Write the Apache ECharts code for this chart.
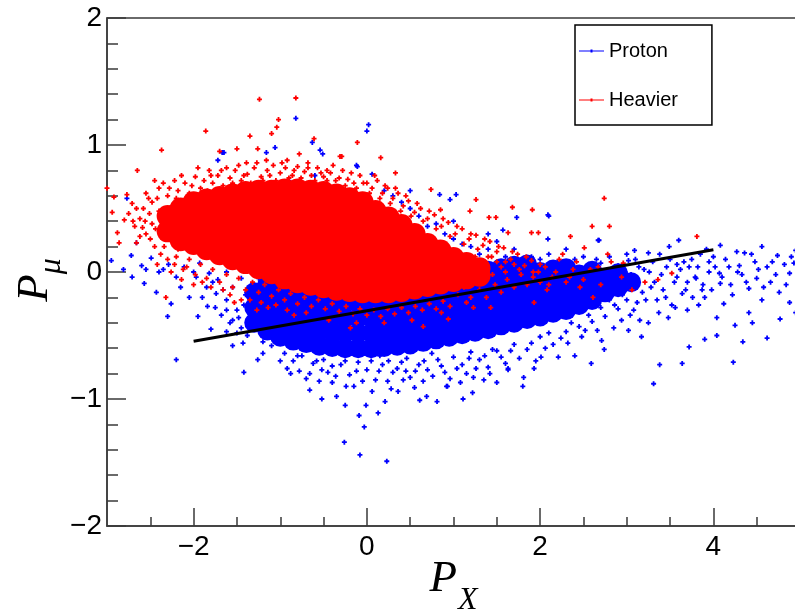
<!DOCTYPE html>
<html><head><meta charset="utf-8">
<script src="https://cdn.jsdelivr.net/npm/echarts@6.0.0/dist/echarts.min.js"></script>
<style>html,body{margin:0;padding:0;background:#fff}#c{width:795px;height:612px}</style>
</head><body><div id="c"></div><script>
const xMajorTicks = [-2, 0, 2, 4];
const xMinorTicks = [-2.5, -1.5, -1, -0.5, 0.5, 1, 1.5, 2.5, 3, 3.5, 4.5];
const seriesNames = ['Proton', 'Heavier'];
const fitLine = [[-2, -0.545], [4, 0.175]];

const protonCore = [
[-1.3,-0.40],[-1.3,-0.28],[-1.3,-0.16],
[-1.15,-0.46],[-1.15,-0.34],[-1.15,-0.22],[-1.15,-0.10],
[-1.0,-0.51],[-1.0,-0.39],[-1.0,-0.27],[-1.0,-0.15],
[-0.85,-0.54],[-0.85,-0.42],[-0.85,-0.30],[-0.85,-0.18],
[-0.7,-0.56],[-0.7,-0.44],[-0.7,-0.32],[-0.7,-0.20],
[-0.55,-0.58],[-0.55,-0.46],[-0.55,-0.34],[-0.55,-0.22],
[-0.4,-0.59],[-0.4,-0.47],[-0.4,-0.35],[-0.4,-0.23],
[-0.25,-0.60],[-0.25,-0.48],[-0.25,-0.36],[-0.25,-0.24],
[-0.1,-0.60],[-0.1,-0.48],[-0.1,-0.36],[-0.1,-0.24],
[0.05,-0.60],[0.05,-0.48],[0.05,-0.36],[0.05,-0.24],
[0.2,-0.59],[0.2,-0.47],[0.2,-0.35],[0.2,-0.23],
[0.35,-0.58],[0.35,-0.46],[0.35,-0.34],[0.35,-0.22],
[0.5,-0.57],[0.5,-0.45],[0.5,-0.33],[0.5,-0.21],
[0.65,-0.55],[0.65,-0.43],[0.65,-0.31],[0.65,-0.19],
[0.8,-0.53],[0.8,-0.41],[0.8,-0.29],[0.8,-0.17],
[0.95,-0.51],[0.95,-0.39],[0.95,-0.27],[0.95,-0.15],[0.95,-0.05],
[1.1,-0.49],[1.1,-0.37],[1.1,-0.25],[1.1,-0.13],[1.1,-0.03],
[1.25,-0.47],[1.25,-0.35],[1.25,-0.23],[1.25,-0.11],[1.25,-0.01],
[1.4,-0.45],[1.4,-0.33],[1.4,-0.21],[1.4,-0.09],[1.4,0.01],
[1.55,-0.42],[1.55,-0.30],[1.55,-0.18],[1.55,-0.06],[1.55,0.03],
[1.7,-0.40],[1.7,-0.28],[1.7,-0.16],[1.7,-0.04],[1.7,0.05],
[1.85,-0.37],[1.85,-0.25],[1.85,-0.13],[1.85,-0.02],[1.85,0.06],
[2.0,-0.35],[2.0,-0.23],[2.0,-0.11],[2.0,0.0],
[2.15,-0.32],[2.15,-0.20],[2.15,-0.08],[2.15,0.02],
[2.3,-0.30],[2.3,-0.18],[2.3,-0.06],[2.3,0.03],
[2.45,-0.26],[2.45,-0.14],[2.45,-0.02],
[2.6,-0.22],[2.6,-0.10],[2.6,0.01],
[2.75,-0.16],[2.75,-0.05],
[2.9,-0.12],[2.9,-0.01],[3.05,-0.08]
];

const protonPts = [
[-0.82,1.21],[-1.67,0.94],[-1.72,0.88],[-1.16,0.94],[-1.06,0.98],[-0.63,1.02],[-0.54,0.96],[-0.51,0.93],
[-0.11,0.83],[-2.77,0.58],[-2.66,0.23],[-2.72,0.13],[-1.65,0.94],[0.02,1.16],[0.0,1.11],[-0.12,0.84],
[0.06,0.77],[1.03,0.61],[0.84,0.61],[2.10,0.44],[1.73,0.43],[0.96,0.57],[2.09,0.26],[1.57,0.33],[2.68,0.25],
[4.08,0.21],[3.60,0.25],[4.27,0.16],[4.56,0.20],[4.95,0.17],[2.67,0.25],[2.09,0.45],
[0.23,-1.49],[-0.08,-1.44],[-0.26,-1.34],[-0.03,-1.22],[-0.09,-1.13],[0.13,-1.11],[-0.66,-0.93],[-0.52,-1.0],
[-0.35,-0.98],[-0.25,-1.05],[-0.01,-1.05],[0.21,-1.02],[0.61,-1.01],[0.69,-0.98],[0.81,-1.02],[1.11,-1.0],
[0.92,-0.90],[1.80,-0.90],[-1.42,-0.79],[-1.26,-0.69],[-2.20,-0.69],[-1.43,-0.56],[-2.43,-0.16],[-2.26,-0.25],
[-1.84,-0.27],[-1.62,-0.30],[-0.52,-0.77],[-0.40,-0.87],[0.42,-0.85],[1.63,-0.76],[1.93,-0.76],[1.35,-0.85],
[0.93,-0.90],[3.31,-0.88],[3.64,-0.72],[4.23,-0.71],[3.38,-0.73],[2.59,-0.72],[4.04,-0.50],[4.34,-0.55],
[4.62,-0.52],[3.90,-0.53],[3.72,-0.59],[4.77,-0.37],[4.95,-0.32],[4.88,-0.24],[4.56,-0.22],[4.41,-0.32],
[4.25,-0.42],[4.04,-0.36],[3.83,-0.26],[4.88,-0.01],[4.93,0.07],[4.74,0.13],[4.36,0.15],[4.48,0.08],
[4.66,-0.08],[4.76,-0.16],[4.33,-0.02],[4.41,-0.13],[4.18,0.04],[4.08,-0.09],[4.22,-0.18],[3.95,0.08],
[4.07,-0.01],[3.87,-0.14],[3.79,-0.04],[3.72,0.04],[3.64,-0.17],[3.56,-0.28],[3.37,-0.32],[3.25,-0.40],
[3.17,-0.51],[3.02,-0.46],[2.74,-0.61],[2.71,-0.54],[2.48,-0.51],[2.32,-0.56],[2.21,-0.67],[2.01,-0.67],
[1.81,-0.83],[1.63,-0.77],[1.40,-0.75],[1.23,-0.83],[1.08,-0.87],[3.49,0.20],[3.09,0.17],[3.25,0.15],[3.02,0.09],
[-2.95,0.09],[-2.81,0.02],[-2.71,-0.04],[-2.57,-0.09],[-2.20,-0.04],[-2.29,0.06],[-2.49,0.11],[-2.11,0.04],
[-1.97,-0.04],[-1.85,-0.12],[-1.74,-0.17],[-1.62,-0.22],[-1.93,0.07],[-1.82,-0.01],[-1.62,-0.47],[-1.55,-0.38],
[-1.35,-0.28],[-1.27,-0.43],[-1.50,-0.30],[-1.45,-0.44],[-1.40,-0.18],[-1.55,-0.12],[-1.68,-0.34],[-1.72,-0.06],
[-1.10,-0.58],[-0.95,-0.64],[-0.85,-0.70],[-0.75,-0.66],[-0.62,-0.72],[-0.50,-0.69],[-0.45,-0.79],[-0.30,-0.73],
[-0.20,-0.81],[-0.10,-0.71],[0.0,-0.77],[0.10,-0.85],[0.18,-0.73],[0.30,-0.79],[0.40,-0.71],[0.50,-0.83],
[0.60,-0.73],[0.70,-0.77],[0.82,-0.69],[0.90,-0.79],[1.00,-0.67],[1.10,-0.73],[1.20,-0.63],[1.30,-0.69],
[1.45,-0.61],[1.55,-0.67],[1.70,-0.57],[1.85,-0.61],[2.00,-0.51],[2.15,-0.57],[2.30,-0.47],[2.45,-0.43],
[2.60,-0.39],[2.75,-0.35],[2.90,-0.29],[3.00,-0.22],[-0.88,-0.80],[-0.70,-0.84],[-0.15,-0.90],[0.28,-0.92],
[0.55,-0.91],[1.22,-0.95],[1.50,-0.87],[2.40,-0.66],[2.85,-0.44],[-0.30,-0.62],[0.15,-0.66],[0.75,-0.64],
[2.85,-0.05],[2.90,0.05],[2.95,-0.18],[3.05,-0.02],[3.10,0.10],[3.12,-0.24],[3.20,0.02],[3.28,-0.12],
[3.30,0.08],[3.40,-0.02],[3.45,-0.20],[3.50,0.10],[3.55,-0.08],[3.62,0.02],[3.68,-0.14],[3.75,0.10],
[3.80,-0.05],[3.90,-0.20],[3.95,0.00],[4.00,0.12],[2.88,-0.12],[2.98,0.00],[3.08,-0.30],[3.18,-0.16],
[3.35,-0.22],[3.48,-0.36],[3.58,0.06],[3.70,-0.30],[3.85,0.14],[4.12,-0.25],[4.30,0.05],[4.50,-0.05],
[4.62,0.04],[4.82,0.06],[4.45,-0.40],[2.80,0.12],[2.70,0.07],[3.15,-0.38],
[0.30,0.60],[0.50,0.50],[0.70,0.36],[0.90,0.30],[1.10,0.22],[1.30,0.14],[1.50,0.24],[1.70,0.18],
[1.90,0.12],[2.10,0.14],[2.30,0.18],[2.50,0.12],[2.65,0.10],[-0.60,0.76],[-0.90,0.72],[-2.40,0.00],
[-2.60,0.05],[-2.05,-0.20],[-1.95,-0.35],[-2.30,-0.35],[-1.80,-0.45],[-1.55,-0.58],[-1.20,-0.64],
[-1.00,-0.70],[-0.92,-0.76],[-0.80,-0.66],[-0.78,-0.78],[-0.66,-0.80],[-0.58,-0.70],[-0.55,-0.86],[-0.40,-0.74],
[-0.36,-0.82],[-0.25,-0.70],[-0.24,-0.90],[-0.12,-0.78],[-0.05,-0.86],[0.05,-0.70],[0.06,-0.94],[0.14,-0.78],
[0.24,-0.86],[0.25,-0.70],[0.35,-0.76],[0.36,-0.94],[0.45,-0.78],[0.46,-0.68],[0.56,-0.78],[0.65,-0.86],
[0.66,-0.70],[0.76,-0.82],[0.86,-0.74],[0.96,-0.84],[1.04,-0.76],[1.15,-0.80],[1.18,-0.68],[1.26,-0.76],
[1.36,-0.66],[1.42,-0.80],[1.50,-0.62],[1.60,-0.72],[1.66,-0.62],[1.76,-0.68],[1.90,-0.56],[1.95,-0.70],
[2.06,-0.60],[2.10,-0.48],[2.24,-0.52],[2.36,-0.40],[2.52,-0.46],[2.56,-0.34],[2.66,-0.46],[2.70,-0.28],
[2.80,-0.22],[2.94,-0.38],[3.04,-0.34],
[2.82,0.00],[2.86,-0.26],[2.92,-0.08],[3.00,0.14],[3.02,-0.10],[3.10,-0.06],[3.14,0.04],[3.22,-0.22],
[3.26,0.00],[3.32,-0.08],[3.38,0.14],[3.42,-0.14],[3.46,0.04],[3.52,-0.26],[3.58,-0.04],[3.66,0.08],
[3.70,-0.08],[3.76,-0.20],[3.82,0.04],[3.88,-0.10],[3.92,0.18],[3.98,-0.14],[4.02,0.04],[4.10,-0.04],
[4.14,0.10],[4.20,-0.10],[4.28,0.00],[4.38,-0.08],[4.44,0.14],[4.52,0.02],[4.58,-0.12],[4.68,0.08],
[4.72,-0.02],[4.84,-0.10],[4.90,0.12],
[-1.90,-0.20],[-1.75,-0.28],[-1.66,-0.14],[-1.58,-0.40],[-1.48,-0.36],[-1.42,-0.26],[-1.38,-0.50],[-1.50,-0.48],
[-1.20,-0.55],[-1.25,-0.05],[-1.45,-0.05],[-1.62,0.00],[-1.78,-0.08],[-2.00,0.00],[-2.15,-0.12],[-2.35,0.02],
[-2.55,0.02],
[0.20,0.64],[0.40,0.55],[0.60,0.44],[0.80,0.38],[1.00,0.26],[1.20,0.20],[1.40,0.18],[1.60,0.12],
[1.80,0.08],[2.00,0.10],[2.20,0.08],[2.40,0.10],[2.60,0.06],[1.00,0.40],[1.40,0.30],[0.50,0.64]
];

const heavierCore = [
[-2.3,0.32],[-2.3,0.44],
[-2.15,0.25],[-2.15,0.38],[-2.15,0.50],
[-2.0,0.22],[-2.0,0.35],[-2.0,0.48],[-2.0,0.55],
[-1.85,0.18],[-1.85,0.31],[-1.85,0.44],[-1.85,0.57],
[-1.7,0.14],[-1.7,0.27],[-1.7,0.40],[-1.7,0.53],[-1.7,0.59],
[-1.55,0.10],[-1.55,0.23],[-1.55,0.36],[-1.55,0.49],[-1.55,0.61],
[-1.4,0.07],[-1.4,0.20],[-1.4,0.33],[-1.4,0.46],[-1.4,0.59],[-1.4,0.63],
[-1.25,0.03],[-1.25,0.16],[-1.25,0.29],[-1.25,0.42],[-1.25,0.55],[-1.25,0.64],
[-1.1,-0.01],[-1.1,0.12],[-1.1,0.25],[-1.1,0.38],[-1.1,0.51],[-1.1,0.64],
[-0.95,-0.05],[-0.95,0.08],[-0.95,0.21],[-0.95,0.34],[-0.95,0.47],[-0.95,0.60],[-0.95,0.65],
[-0.8,-0.08],[-0.8,0.05],[-0.8,0.18],[-0.8,0.31],[-0.8,0.44],[-0.8,0.57],[-0.8,0.65],
[-0.65,-0.10],[-0.65,0.03],[-0.65,0.16],[-0.65,0.29],[-0.65,0.42],[-0.65,0.55],[-0.65,0.64],
[-0.5,-0.12],[-0.5,0.01],[-0.5,0.14],[-0.5,0.27],[-0.5,0.40],[-0.5,0.53],[-0.5,0.63],
[-0.35,-0.14],[-0.35,-0.01],[-0.35,0.12],[-0.35,0.25],[-0.35,0.38],[-0.35,0.51],[-0.35,0.61],
[-0.2,-0.15],[-0.2,-0.02],[-0.2,0.11],[-0.2,0.24],[-0.2,0.37],[-0.2,0.50],[-0.2,0.58],
[-0.05,-0.16],[-0.05,-0.03],[-0.05,0.10],[-0.05,0.23],[-0.05,0.36],[-0.05,0.48],[-0.05,0.55],
[0.1,-0.16],[0.1,-0.03],[0.1,0.10],[0.1,0.23],[0.1,0.36],[0.1,0.48],
[0.25,-0.16],[0.25,-0.03],[0.25,0.10],[0.25,0.23],[0.25,0.36],[0.25,0.43],
[0.4,-0.15],[0.4,-0.02],[0.4,0.11],[0.4,0.24],[0.4,0.37],
[0.55,-0.13],[0.55,0.0],[0.55,0.12],[0.55,0.23],[0.55,0.30],
[0.7,-0.11],[0.7,0.01],[0.7,0.12],[0.7,0.22],
[0.85,-0.09],[0.85,0.02],[0.85,0.12],[0.85,0.17],
[1.0,-0.07],[1.0,0.03],[1.0,0.11],
[1.15,-0.05],[1.15,0.04],[1.15,0.07],
[1.3,-0.03],[1.3,0.03]
];

const heavierPts = [
[-1.24,1.36],[-0.82,1.37],[-1.02,1.20],[-1.04,1.14],[-1.10,1.09],[-1.86,1.11],[-1.35,1.07],[-2.37,0.96],
[-1.70,0.95],[-1.50,0.97],[-1.26,0.97],[-0.61,1.05],[-0.78,0.93],[-0.11,1.02],[-2.65,0.80],[-3.0,0.66],
[-2.94,0.47],[-2.88,0.31],[-2.66,0.23],[-2.45,0.72],[-2.22,0.72],[-1.82,0.80],[-1.62,0.82],[-1.39,0.86],
[-1.16,0.88],[-0.92,0.88],[-0.68,0.86],[-0.46,0.80],[-0.31,0.91],[-2.77,0.61],[-2.92,0.59],[-2.80,0.41],
[-2.71,0.54],[-2.51,0.46],[-2.59,0.35],[-2.32,0.39],[-2.36,0.28],[-2.86,0.23],
[0.16,0.90],[-0.29,0.91],[0.33,0.78],[0.74,0.65],[1.26,0.57],[1.68,0.51],[1.91,0.49],[2.60,0.36],
[2.35,0.28],[1.41,0.43],[1.49,0.43],[1.19,0.48],[0.85,0.49],[1.90,0.31],[1.98,0.31],[1.63,0.31],
[2.74,0.58],[2.80,0.36],[3.81,0.28],
[1.23,-0.28],[1.43,-0.28],[0.94,-0.37],[1.93,-0.24],[2.61,-0.20],[2.94,-0.04],[3.06,-0.14],[3.21,-0.08],
[3.36,-0.06],[3.52,-0.01],[2.51,0.19],[2.82,0.08],[2.67,0.04],[2.96,0.07],
[-0.19,-0.44],[0.65,-0.43],[-2.32,-0.20],[-1.53,-0.24],[-1.27,-0.30],
[-2.55,0.62],[-2.48,0.55],[-2.40,0.66],[-2.30,0.60],[-2.25,0.52],[-2.18,0.64],[-2.10,0.70],[-2.05,0.62],
[-1.98,0.75],[-1.92,0.66],[-1.88,0.72],[-1.78,0.70],[-1.72,0.76],[-1.66,0.68],[-1.58,0.74],[-1.52,0.80],
[-1.45,0.72],[-1.38,0.77],[-1.30,0.82],[-1.22,0.75],[-1.15,0.80],[-1.08,0.84],[-1.00,0.78],[-0.94,0.82],
[-0.86,0.76],[-0.80,0.83],[-0.72,0.79],[-0.64,0.76],[-0.57,0.82],[-0.50,0.75],[-0.42,0.78],[-0.36,0.72],
[-0.28,0.80],[-0.22,0.73],[-0.15,0.70],[-0.08,0.76],[0.00,0.70],[0.06,0.66],[0.12,0.72],[0.18,0.62],
[0.24,0.66],[0.30,0.58],[0.36,0.62],[0.42,0.52],[0.48,0.56],[0.55,0.47],[0.62,0.50],[0.70,0.42],
[0.78,0.45],[0.86,0.36],[0.94,0.39],[1.02,0.30],[1.10,0.34],[1.18,0.26],[1.26,0.29],[1.34,0.21],
[1.42,0.24],[1.50,0.16],[1.58,0.19],[1.66,0.10],[1.74,0.14],[1.82,0.05],[1.90,0.09],[1.98,0.00],
[2.06,0.04],[2.14,-0.04],[2.22,0.10],[2.30,-0.08],[2.38,0.02],[2.46,-0.12],
[1.05,-0.18],[1.12,-0.12],[1.20,-0.20],[1.30,-0.14],[1.38,-0.20],[1.48,-0.10],[1.55,-0.16],[1.62,-0.06],
[1.70,-0.12],[1.78,-0.02],[1.85,-0.10],[1.92,0.00],[2.00,-0.08],[2.08,-0.14],[1.60,0.00],[1.70,0.06],
[1.50,0.08],[1.40,0.12],[1.45,-0.02],[1.35,0.06],[1.25,0.12],[1.55,0.04],
[-2.62,0.42],[-2.55,0.30],[-2.48,0.38],[-2.45,0.20],[-2.40,0.48],[-2.38,0.14],[-2.30,0.10],[-2.22,0.06],
[-2.18,0.18],[-2.12,0.02],[-2.05,0.10],[-1.98,-0.02],[-1.92,0.06],[-1.85,-0.05],[-1.78,0.02],[-1.70,-0.08],
[-1.62,-0.02],[-1.55,-0.12],[-1.48,-0.05],[-1.40,-0.14],[-1.32,-0.08],[-1.25,-0.16],[-1.18,-0.10],[-1.10,-0.19],
[-1.02,-0.14],[-0.95,-0.22],[-0.88,-0.17],[-0.80,-0.25],[-0.72,-0.20],[-0.64,-0.27],[-0.56,-0.22],[-0.48,-0.29],
[-0.40,-0.25],[-0.32,-0.31],[-0.24,-0.27],[-0.16,-0.33],[-0.08,-0.29],[0.00,-0.34],[0.08,-0.30],[0.16,-0.35],
[0.24,-0.29],[0.32,-0.33],[0.40,-0.28],[0.48,-0.32],[0.56,-0.27],[0.64,-0.30],[0.72,-0.25],[0.80,-0.29],
[0.88,-0.23],[0.96,-0.27],[-2.58,0.50],[-2.68,0.36],[-2.75,0.46],[-2.62,0.28],[-2.52,0.58],
[-2.42,0.58],[-2.35,0.70],[-2.28,0.66],[-2.20,0.58],[-2.14,0.76],[-2.02,0.68],[-1.95,0.82],[-1.84,0.64],
[-1.80,0.76],[-1.68,0.80],[-1.62,0.66],[-1.55,0.70],[-1.48,0.84],[-1.42,0.76],[-1.34,0.70],[-1.27,0.86],
[-1.20,0.72],[-1.12,0.76],[-1.05,0.72],[-0.98,0.86],[-0.90,0.74],[-0.84,0.80],[-0.76,0.74],[-0.68,0.82],
[-0.60,0.72],[-0.53,0.78],[-0.46,0.72],[-0.39,0.84],[-0.32,0.74],[-0.25,0.68],[-0.18,0.78],[-0.12,0.66],
[-0.04,0.70],[0.03,0.62],[0.09,0.76],[0.15,0.58],[0.21,0.68],[0.27,0.54],[0.33,0.66],[0.39,0.48],
[0.45,0.60],[0.51,0.44],[0.58,0.54],[0.65,0.40],[0.72,0.48],[0.80,0.34],[0.88,0.42],[0.96,0.28],
[1.04,0.36],[1.12,0.22],[1.20,0.30],[1.28,0.18],[1.36,0.26],[1.44,0.12],[1.52,0.20],[1.60,0.08],
[1.68,0.16],[1.76,0.02],[1.84,0.12],[1.92,-0.04],[2.00,0.06],[2.10,-0.10],[2.18,0.00],[2.26,0.14],
[2.34,-0.04],[2.42,0.08],[2.50,-0.06],[2.58,0.02],[2.70,-0.10],[2.78,0.14],
[-2.70,0.40],[-2.66,0.50],[-2.56,0.40],[-2.50,0.26],[-2.44,0.34],[-2.42,0.06],[-2.34,0.20],[-2.26,0.00],
[-2.20,0.12],[-2.14,-0.06],[-2.08,0.04],[-2.00,-0.10],[-1.90,-0.08],[-1.80,-0.12],[-1.66,-0.14],[-1.58,-0.18],
[-1.45,-0.22],[-1.35,-0.22],[-1.22,-0.24],[-1.14,-0.28],[-1.05,-0.26],[-0.92,-0.30],[-0.84,-0.34],[-0.70,-0.32],
[-0.44,-0.38],[-0.12,-0.40],[0.20,-0.40],[0.52,-0.38],[0.86,-0.32],[1.15,-0.24]
];

const minusFmt = v => String(v).replace('-', '\u2212');
const axisColor = '#3a3a3a';
const plus = 'path://M1.6,0H3.4V1.6H5V3.4H3.4V5H1.6V3.4H0V1.6H1.6Z';
const legendIcon = 'path://M0,0h0.01v0.01h-0.01z M24.99,19.99h0.01v0.01h-0.01z M0,9.5H25V10.5H0Z M11.5,8.5H13.5V11.5H11.5Z';
const serif = 'Liberation Serif';
const xTitleRich = {
  p: {fontFamily: serif, fontStyle: 'italic', fontSize: 45, lineHeight: 45, color: '#000', verticalAlign: 'top'},
  s: {fontFamily: serif, fontStyle: 'italic', fontSize: 32, lineHeight: 32, color: '#000', verticalAlign: 'top', padding: [28, 0, 0, 1]}
};
const yTitleRich = {
  p: {fontFamily: serif, fontStyle: 'italic', fontSize: 45, lineHeight: 45, color: '#000', verticalAlign: 'top'},
  s: {fontFamily: serif, fontStyle: 'italic', fontSize: 32, lineHeight: 32, color: '#000', verticalAlign: 'top', padding: [23, 16, 0, 0]}
};
const solid = {opacity: 1};

const chart = echarts.init(document.getElementById('c'), null, {renderer: 'canvas'});
chart.setOption({
  animation: false,
  backgroundColor: '#fff',
  grid: {left: 107, top: 18, width: 693, height: 508, outerBoundsMode: 'none', containLabel: false,
         show: true, borderColor: axisColor, borderWidth: 1.5, backgroundColor: 'transparent'},
  legend: {
    data: seriesNames, orient: 'vertical', left: 575, top: 25,
    padding: [16, 34, 15, 4], itemGap: 29, itemWidth: 25, itemHeight: 20,
    icon: legendIcon, borderColor: '#000', borderWidth: 1.5, backgroundColor: '#fff',
    textStyle: {fontFamily: 'Liberation Sans', fontSize: 20, lineHeight: 20, color: '#000'}
  },
  xAxis: [{
    type: 'value', min: -3, max: 5, interval: 1, position: 'bottom',
    splitLine: {show: false},
    axisLine: {onZero: false, lineStyle: {color: axisColor, width: 1.5}},
    axisTick: {inside: true, length: 18, customValues: xMajorTicks, lineStyle: {color: axisColor, width: 1.5}},
    axisLabel: {customValues: xMajorTicks, formatter: minusFmt, fontFamily: 'Liberation Sans', fontSize: 28, color: '#000', margin: 7},
    name: '{p|P}{s|X}', nameLocation: 'middle', nameGap: 31, nameMoveOverlap: false,
    nameTextStyle: {rich: xTitleRich}
  }, {
    type: 'value', min: -3, max: 5, interval: 1, position: 'bottom',
    splitLine: {show: false},
    axisLine: {show: false, onZero: false},
    axisTick: {inside: true, length: 9, customValues: xMinorTicks, lineStyle: {color: axisColor, width: 1.5}},
    axisLabel: {show: false}
  }],
  yAxis: {
    type: 'value', min: -2, max: 2, interval: 1,
    splitLine: {show: false},
    axisLine: {onZero: false, lineStyle: {color: axisColor, width: 1.5}},
    axisTick: {inside: true, length: 19, lineStyle: {color: axisColor, width: 1.5}},
    minorTick: {show: true, splitNumber: 5, length: 11, lineStyle: {color: axisColor, width: 1.5}},
    axisLabel: {formatter: minusFmt, fontFamily: 'Liberation Sans', fontSize: 28, color: '#000', margin: 5},
    name: '{p|P}{s|\u03BC}', nameLocation: 'middle', nameRotate: 90, nameGap: 49, nameMoveOverlap: false,
    nameTextStyle: {rich: yTitleRich}
  },
  series: [
    {name: 'Proton', type: 'scatter', data: protonCore, symbol: 'circle', symbolSize: 20, itemStyle: Object.assign({color: '#0000ff'}, solid)},
    {name: 'Proton', type: 'scatter', data: protonPts, symbol: plus, symbolSize: 5, itemStyle: Object.assign({color: '#0000ff'}, solid)},
    {name: 'Heavier', type: 'scatter', data: heavierCore, symbol: 'circle', symbolSize: 22, itemStyle: Object.assign({color: '#ff0000'}, solid)},
    {name: 'Heavier', type: 'scatter', data: heavierPts, symbol: plus, symbolSize: 5, itemStyle: Object.assign({color: '#ff0000'}, solid)},
    {name: 'fit', type: 'line', data: fitLine, showSymbol: false, symbol: 'none', lineStyle: {color: '#000', width: 3}, z: 5}
  ]
});
</script></body></html>
